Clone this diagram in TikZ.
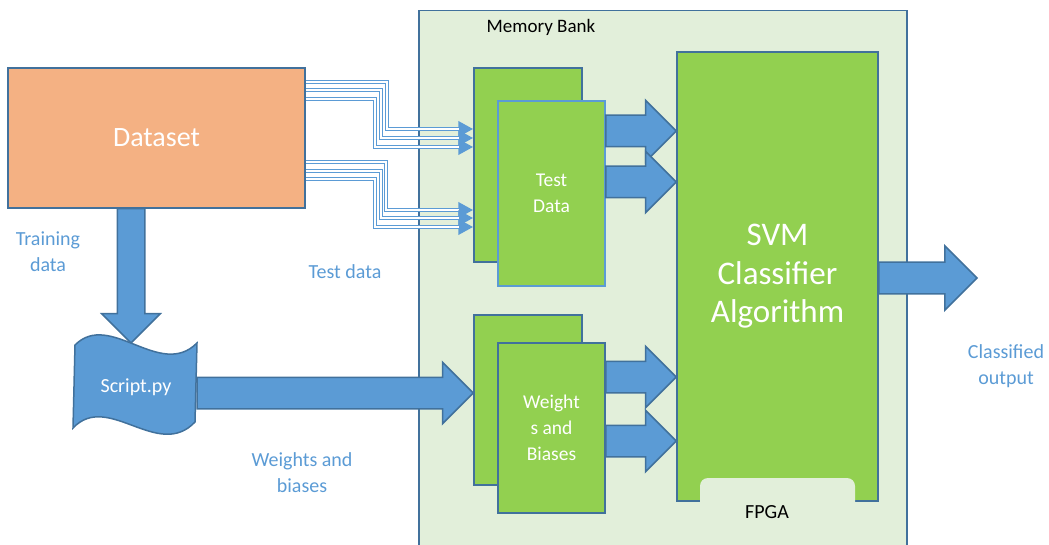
\documentclass[tikz,border=0pt]{standalone}
\usepackage{fontspec}
\setmainfont{Carlito}
\usepackage{tikz}
\usetikzlibrary{arrows.meta, positioning, calc, shapes.arrows}
\definecolor{peach}{HTML}{F4B183}
\definecolor{leaf}{HTML}{92D050}
\definecolor{mint}{HTML}{E2EFDA}
\definecolor{steel}{HTML}{41719C}
\definecolor{sky}{HTML}{5B9BD5}
\tikzset{
  every picture/.style={x=1pt, y=-1pt, >=Stealth},
  databox/.style={draw=steel, fill=peach, line width=1.5pt, text=white,
              minimum width=297pt, minimum height=140pt, font=\fontsize{28}{32}\selectfont},
  bank/.style={draw=steel, fill=mint, line width=1.5pt, inner sep=0pt},
  greenbox/.style={draw=steel, fill=leaf, line width=1.5pt, text=white, align=center,
              minimum width=107pt, font=\fontsize{19.5}{26}\selectfont},
  fatarrow/.style={single arrow, draw=steel, fill=sky, line width=1.5pt, inner xsep=0pt,
              inner ysep=15pt, outer sep=0pt, single arrow head extend=15pt},
  pipe/.style={draw=sky, line width=4pt, -{Triangle[length=15pt,width=15pt]},
              postaction={draw=white, line width=1.6pt, shorten >=14pt, -}},
  lbl/.style={text=sky, align=center, font=\fontsize{20}{26}\selectfont},
}
% block arrow from #2 to #3
\newcommand{\blockarrow}[3][]{%
  \path let \p1=#2, \p2=#3, \n1={veclen(\x2-\x1,\y2-\y1)}, \n2={atan2(\y2-\y1,\x2-\x1)} in
    node[fatarrow, minimum height=\n1, rotate=\n2, anchor=tail, #1] at (\p1) {};}

\begin{document}
\begin{tikzpicture}
  \useasboundingbox (0,0) rectangle (1049,545);
  % memory bank
  \node[bank, anchor=north west, minimum width=488pt, minimum height=545pt] (bank) at (418,10) {};
  \node[font=\fontsize{19}{22}\selectfont] (banklbl) at (541,27) {Memory Bank};

  \node[databox] (ds) at (156.5,138) {Dataset};

  % test data and weights
  \node[greenbox, minimum width=108pt, minimum height=194pt] (tdb) at (528,165) {};
  \node[greenbox, draw=sky, minimum height=185pt] (tdf) at (551.5,193.5) {Test\\Data};
  \node[greenbox, minimum width=108pt, minimum height=170pt] (wb) at (528,400) {};
  \node[greenbox, minimum height=170pt] (wf) at (551.5,428) {Weight\\s and\\Biases};

  \node[greenbox, minimum width=201pt, minimum height=449pt,
        font=\fontsize{33}{38.5}\selectfont] (svm) at (777.5,276.5) {SVM\\Classifier\\Algorithm};
  \fill[mint, rounded corners=8pt] (700,478) rectangle (855,540);
  \node[font=\fontsize{20}{24}\selectfont] (fpga) at (767,512) {FPGA};

  % test data lines
  \foreach \ya/\xa/\yb in {82/387/129, 90/381/138, 99/375/147, 162/386/210, 171/381/218, 179/375/227}
    \draw[pipe] (ds.east |- 0,\ya) -- (\xa,\ya) -- (\xa,\yb) -- (tdb.west |- 0,\yb);

  \blockarrow[inner ysep=13pt, single arrow head extend=15.5pt]{(131,0 |- ds.south)}{(131,343)}

  % script shape
  \draw[steel, fill=sky, line width=1.5pt] (75,345) .. controls (110,310) and (160,380) .. (197,343)
    -- (195,422) .. controls (158,461) and (108,391) .. (73,428) -- cycle;
  \node[text=white, font=\fontsize{20}{24}\selectfont, minimum width=122pt, minimum height=80pt,
        inner sep=0pt] (script) at (136,387) {Script.py};

  \blockarrow{(script.east |- 0,393)}{(wb.west |- 0,393)}
  \blockarrow{(tdf.east |- 0,131)}{(svm.west |- 0,131)}
  \blockarrow{(tdf.east |- 0,182)}{(svm.west |- 0,182)}
  \blockarrow{(wf.east |- 0,377)}{(svm.west |- 0,377)}
  \blockarrow{(wf.east |- 0,441)}{(svm.west |- 0,441)}
  \coordinate (out) at (977,278);
  \blockarrow[single arrow head extend=16.5pt]{(svm.east |- out)}{(out)}

  \node[lbl] (trainlbl) at (48,252) {Training\\data};
  \node[lbl] (testlbl) at (345,272) {Test data};
  \node[lbl] (wblbl) at (302,473) {Weights and\\biases};
  \node[lbl] (outlbl) at (1006,366) {Classified\\output};
\end{tikzpicture}
\end{document}
